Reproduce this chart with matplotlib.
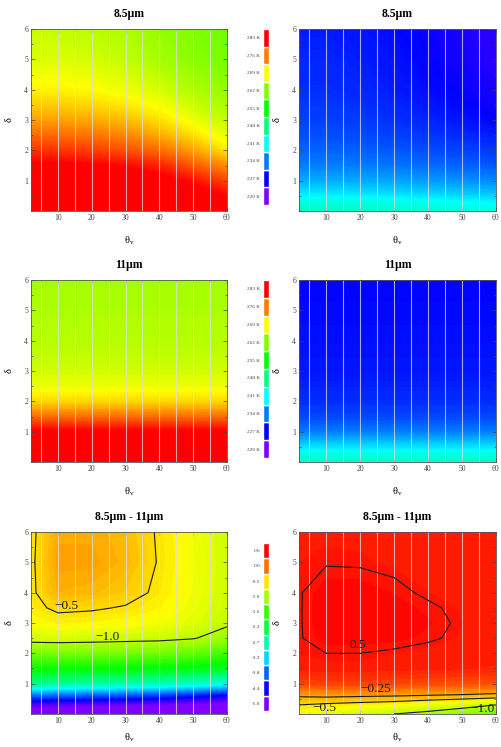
import matplotlib
matplotlib.use("Agg")
import matplotlib.pyplot as plt
import numpy as np
from matplotlib.colors import ListedColormap, Normalize, hsv_to_rgb
from matplotlib.ticker import MultipleLocator

plt.rcParams['font.family'] = ['Liberation Serif', 'DejaVu Serif']

# grid the fields were read on
theta = [2, 10, 20, 30, 40, 50, 60]
delta = [0, 0.3, 0.6, 1, 1.5, 2, 2.5, 3, 3.5, 4, 5, 6]

# brightness temperatures (K), one row per delta, one column per theta
t85_a = [[286, 286, 286, 286, 286, 285.5, 285],
         [286, 286, 286, 286, 285.5, 285, 284],
         [285.5, 285.5, 285.5, 285.5, 285, 284, 282],
         [285, 285, 285, 284.5, 284, 282, 279],
         [283.5, 283.5, 283, 282.5, 281, 278, 275],
         [280, 280, 279.5, 278.5, 277, 274, 270],
         [277, 277, 276.5, 275.5, 273.5, 270.5, 267.5],
         [274, 274, 273.5, 272.5, 270.5, 268, 265.5],
         [271.5, 271.5, 271, 270, 268.5, 266, 264],
         [269.5, 269.5, 269, 268, 266.5, 264.5, 263],
         [267, 267, 266.5, 265.5, 264, 262.5, 261.5],
         [266, 265.5, 265, 264.5, 263, 262, 261]]

t85_b = [[244.5, 244.5, 244.5, 244.2, 243.8, 243.2, 242.7],
         [242.5, 242.5, 242.3, 242, 241.5, 241, 240.5],
         [239.5, 239.5, 239.3, 239, 238.5, 238, 237.5],
         [236.5, 236.5, 236.3, 236, 235.5, 235, 234.5],
         [234, 234, 233.8, 233.4, 232.9, 232.4, 231.8],
         [232.5, 232.5, 232.2, 231.8, 231.2, 230.6, 230],
         [231.3, 231.3, 231, 230.5, 229.9, 229.2, 228.5],
         [230.5, 230.5, 230.2, 229.6, 228.9, 228, 227.2],
         [230, 230, 229.6, 229, 228.2, 227.2, 226.3],
         [229.5, 229.5, 229.1, 228.5, 227.6, 226.6, 225.7],
         [229, 229, 228.6, 228, 227, 226, 225],
         [228.5, 228.5, 228.1, 227.5, 226.6, 225.6, 224.6]]

# 11 um fields hardly change with theta: one profile per delta
t11_a_profile = [286, 286, 285.5, 283.5, 277, 271, 268, 266.5, 265.5, 265, 264.3, 264]
t11_b_profile = [244.5, 242, 238.5, 234, 231, 229.5, 228.8, 228.3, 228, 227.8, 227.5, 227.3]

# differences 8.5um - 11um
diff_a = [[-5.3, -5.3, -5.3, -5.3, -5.3, -5.3, -5.3],
          [-4.8, -4.85, -4.9, -4.95, -5.0, -5.05, -5.1],
          [-3.9, -3.95, -4.0, -4.05, -4.15, -4.3, -4.5],
          [-2.6, -2.65, -2.7, -2.75, -2.8, -2.9, -3.05],
          [-1.85, -1.9, -1.9, -1.92, -1.95, -2.0, -2.05],
          [-1.35, -1.33, -1.33, -1.35, -1.37, -1.42, -1.6],
          [-0.87, -0.86, -0.88, -0.9, -0.92, -0.98, -1.15],
          [-0.66, -0.6, -0.62, -0.65, -0.7, -0.8, -0.95],
          [-0.57, -0.45, -0.47, -0.52, -0.6, -0.75, -0.9],
          [-0.55, -0.28, -0.32, -0.4, -0.55, -0.72, -0.88],
          [-0.55, -0.2, -0.2, -0.3, -0.52, -0.7, -0.88],
          [-0.56, -0.24, -0.24, -0.33, -0.53, -0.72, -0.9]]

diff_b = [[-0.7, -0.8, -0.9, -1.0, -1.1, -1.25, -1.4],
          [-0.5, -0.55, -0.6, -0.65, -0.75, -0.85, -1.0],
          [-0.22, -0.2, -0.22, -0.24, -0.27, -0.3, -0.35],
          [0.26, 0.28, 0.28, 0.26, 0.24, 0.22, 0.2],
          [0.45, 0.46, 0.46, 0.45, 0.44, 0.43, 0.42],
          [0.48, 0.5, 0.5, 0.48, 0.45, 0.45, 0.44],
          [0.49, 0.56, 0.56, 0.55, 0.52, 0.47, 0.45],
          [0.49, 0.58, 0.58, 0.57, 0.54, 0.48, 0.46],
          [0.49, 0.58, 0.58, 0.56, 0.52, 0.47, 0.46],
          [0.49, 0.57, 0.57, 0.53, 0.48, 0.46, 0.45],
          [0.48, 0.49, 0.485, 0.47, 0.46, 0.45, 0.44],
          [0.46, 0.47, 0.47, 0.46, 0.45, 0.44, 0.43]]

t_ticks = [220, 227, 234, 241, 248, 255, 262, 269, 276, 283]
t_labels = ['220 K', '227 K', '234 K', '241 K', '248 K', '255 K', '262 K', '269 K', '276 K', '283 K']
d_ticks = [-5.0, -4.44, -3.88, -3.32, -2.76, -2.2, -1.64, -1.08, -0.52, 0.04, 0.6]
d_labels = ['-5.0', '-4.4', '-3.8', '-3.2', '-2.7', '-2.2', '-1.6', '-1.0', '-0.5', '0.0', '0.6']

# contour levels and where their labels sit
levels_a = [-1.0, -0.5]
levels_b = [-1.0, -0.5, -0.25, 0.5]
labels_a = [(12.6, 3.56, '\u22120.5'), (24.5, 2.54, '\u22121.0')]
labels_b = [(19.4, 2.28, '0.5'), (24.7, 0.83, '\u22120.25'),
            (9.4, 0.2, '\u22120.5'), (56.2, 0.17, '\u22121.0')]

# hue ramp: violet (low) -> red (high)
hues = np.linspace(270, 0, 256) / 360.0
cmap = ListedColormap(hsv_to_rgb(np.stack([hues, np.ones(256), np.ones(256)], axis=1)))
norm_t = Normalize(220, 283)
norm_d = Normalize(-5.0, 0.6)


def panel(ax, z, norm, title, xpad=9):
    z = np.asarray(z, dtype=float)
    lev = np.linspace(norm.vmin - 8, norm.vmax + 8, 400)
    ax.contourf(theta, delta, z, levels=lev, cmap=cmap, norm=norm)
    ax.vlines(np.arange(5, 60, 5), 0, 6, colors='#dedede', linewidth=0.8, alpha=0.75)
    ax.set_xlim(2, 60)
    ax.set_ylim(0, 6)
    ax.set_xticks([10, 20, 30, 40, 50, 60])
    ax.set_yticks([1, 2, 3, 4, 5, 6])
    ax.xaxis.set_minor_locator(MultipleLocator(5))
    ax.yaxis.set_minor_locator(MultipleLocator(0.5))
    ax.tick_params(which='both', direction='in', top=True, right=True,
                   width=0.5, colors='#444444', labelsize=5.5, pad=2)
    ax.tick_params(which='major', length=3)
    ax.tick_params(which='minor', length=1.5)
    for s in ax.spines.values():
        s.set_color('#555555')
        s.set_linewidth(0.6)
    ax.set_title(title, fontsize=8.5, fontweight='bold', pad=9)
    ax.set_xlabel(r'$\mathregular{\theta_v}$', fontsize=7.5, labelpad=xpad)
    ax.set_ylabel('\u03b4', fontsize=7.5, labelpad=8)


def legend_bar(cax, ticks, labels, norm):
    for i, v in enumerate(ticks):
        cax.bar(0, 1, bottom=i, width=1, color=cmap(norm(v)),
                edgecolor='white', linewidth=1.0)
    cax.set_xlim(-0.5, 0.5)
    cax.set_ylim(0, len(ticks))
    cax.set_yticks(np.arange(len(ticks)) + 0.5)
    cax.set_yticklabels(labels)
    cax.set_xticks([])
    cax.tick_params(axis='y', length=0, labelsize=3.8, pad=2, colors='#444444')
    for s in cax.spines.values():
        s.set_visible(False)


fig = plt.figure(figsize=(5.01, 7.47), dpi=100)

w_l, w_r, h = 0.391, 0.393, 0.2436
rows = [0.7175, 0.3815, 0.0442]

ax1 = fig.add_axes([0.0619, rows[0], w_l, h])
ax2 = fig.add_axes([0.5968, rows[0], w_r, h])
ax3 = fig.add_axes([0.0619, rows[1], w_l, h])
ax4 = fig.add_axes([0.5968, rows[1], w_r, h])
ax5 = fig.add_axes([0.0619, rows[2], w_l, h])
ax6 = fig.add_axes([0.5968, rows[2], w_r, h])

panel(ax1, t85_a, norm_t, '8.5\u03bcm')
panel(ax2, t85_b, norm_t, '8.5\u03bcm')
panel(ax3, np.tile(np.array(t11_a_profile)[:, None], (1, len(theta))), norm_t, '11\u03bcm')
panel(ax4, np.tile(np.array(t11_b_profile)[:, None], (1, len(theta))), norm_t, '11\u03bcm')
panel(ax5, diff_a, norm_d, '8.5\u03bcm - 11\u03bcm', xpad=5)
panel(ax6, diff_b, norm_d, '8.5\u03bcm - 11\u03bcm', xpad=5)

ax5.contour(theta, delta, diff_a, levels=levels_a, colors='#1a1a1a',
            linewidths=0.8, linestyles='solid')
ax6.contour(theta, delta, diff_b, levels=levels_b, colors='#1a1a1a',
            linewidths=0.8, linestyles='solid')
for x, y, s in labels_a:
    ax5.text(x, y, s, fontsize=9.5, ha='center', va='center', color='#1a1a1a')
for x, y, s in labels_b:
    ax6.text(x, y, s, fontsize=9.5, ha='center', va='center', color='#1a1a1a')

legend_bar(fig.add_axes([0.525, 0.7256, 0.012, 0.2356]), t_ticks, t_labels, norm_t)
legend_bar(fig.add_axes([0.525, 0.3869, 0.012, 0.2383]), t_ticks, t_labels, norm_t)
legend_bar(fig.add_axes([0.525, 0.0482, 0.012, 0.2249]), d_ticks, d_labels, norm_d)

fig.savefig('out.png', dpi=100)
